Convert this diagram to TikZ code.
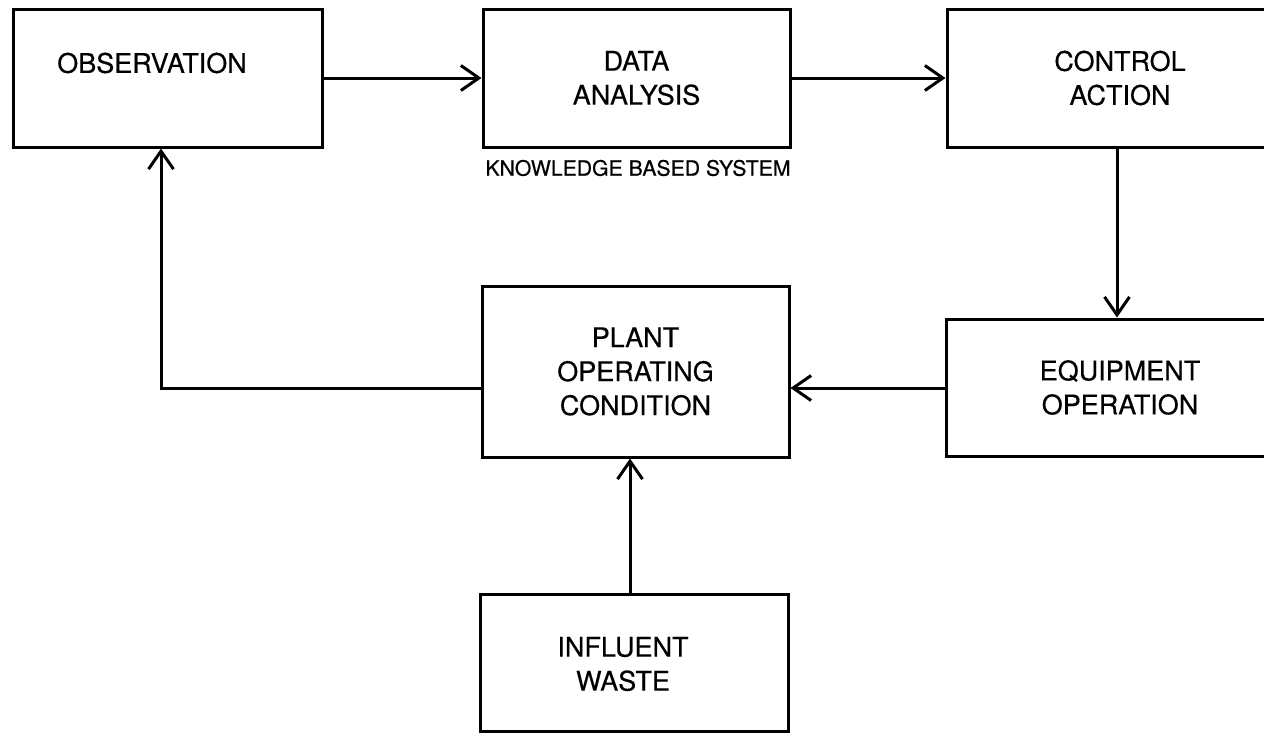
\documentclass[tikz,border=0pt]{standalone}
\usepackage{fontspec}
\setmainfont{TeX Gyre Heros}[FakeBold=0.4]
\usetikzlibrary{arrows.meta}
\begin{document}
\begin{tikzpicture}[x=1pt,y=-1pt,
  box/.style={draw,line width=3pt,rectangle,inner sep=0pt},
  lbl/.style={align=center,font=\fontsize{27}{34}\selectfont,inner sep=0pt},
  small/.style={font=\fontsize{21.2}{26}\selectfont,inner sep=0pt},
  arr/.style={line width=3pt,-{Straight Barb[length=18pt,width=25pt,line width=3pt]}}]
\clip (0,0) rectangle (1264,732);
\fill[white] (0,0) rectangle (1264,732);
% boxes
\node[box,minimum width=309pt,minimum height=138pt] (obs) at (167.5,78) {};
\node[lbl] (obst) at (152,63) {OBSERVATION};
\node[box,minimum width=307pt,minimum height=138pt,lbl] (data) at (636.5,78) {DATA\\ANALYSIS};
\node[small] (kbs) at (638,168) {KNOWLEDGE BASED SYSTEM};
\node[box,minimum width=346pt,minimum height=138pt,lbl] (ctrl) at (1120,78) {CONTROL\\ACTION};
\node[box,minimum width=347pt,minimum height=137pt,lbl] (equip) at (1120,387.5) {EQUIPMENT\\OPERATION};
\node[box,minimum width=307pt,minimum height=171pt,lbl] (plant) at (635.5,371.5) {PLANT\\OPERATING\\CONDITION};
\node[box,minimum width=308pt,minimum height=137pt] (infl) at (634,662.5) {};
\node[lbl] (inflt) at (623,664) {INFLUENT\\WASTE};
% connectors
\draw[arr] (obs.east) -- (data.west);
\draw[arr] (data.east) -- (ctrl.west);
\coordinate (cx) at (1117,0);
\draw[arr] (ctrl.south -| cx) -- (equip.north -| cx);
\coordinate (ey) at (0,388);
\draw[arr] (equip.west |- ey) -- (plant.east |- ey);
\coordinate (fb) at (161,388);
\draw[arr] (plant.west |- fb) -- (fb) -- (fb |- obs.south);
\coordinate (ix) at (630,0);
\draw[arr] (infl.north -| ix) -- (plant.south -| ix);
\end{tikzpicture}
\end{document}
